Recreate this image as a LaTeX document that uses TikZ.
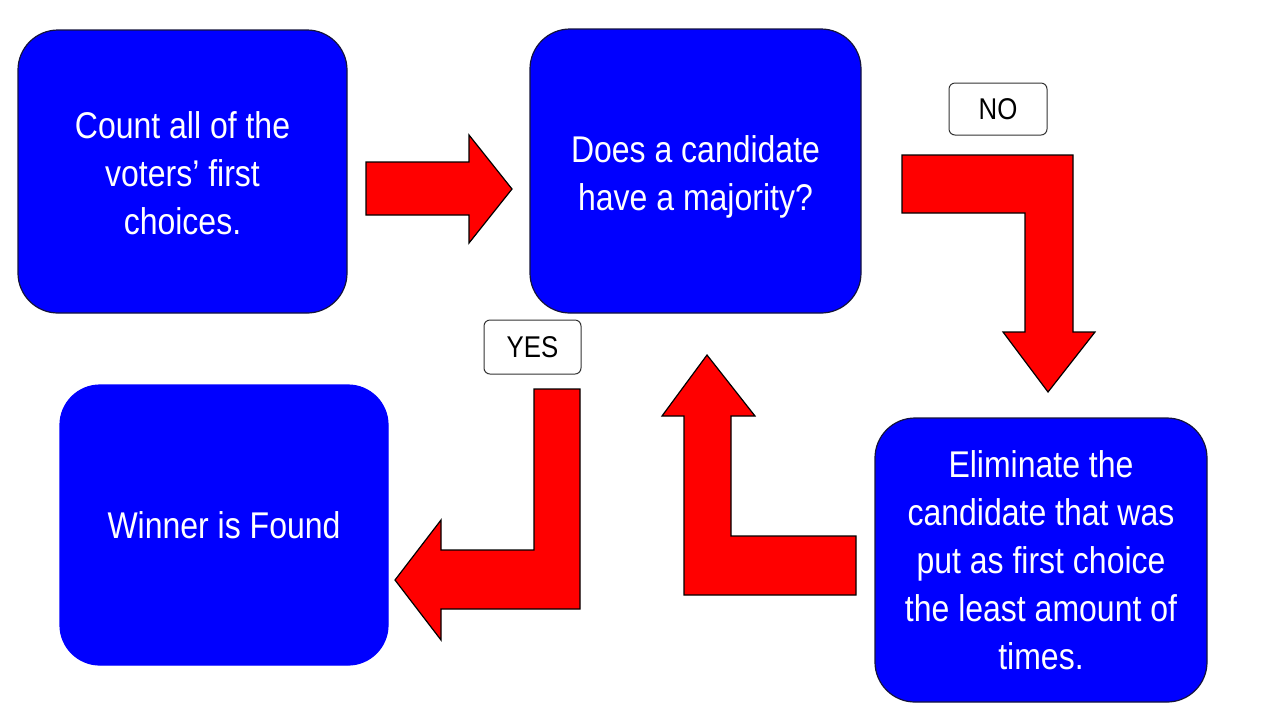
\documentclass[tikz,border=0pt]{standalone}
\usepackage{fontspec}
\setmainfont{Liberation Sans}[FakeStretch=0.86]
\definecolor{boxblue}{RGB}{0,0,255}
\definecolor{arrred}{RGB}{255,0,0}
\definecolor{boxline}{RGB}{20,20,60}
\begin{document}
\begin{tikzpicture}[x=0.5pt,y=-0.5pt,
  bluebox/.style={draw=boxline, line width=0.6pt, fill=boxblue, rounded corners=20pt,
    text=white, align=center, inner sep=0pt,
    font=\fontsize{18.6pt}{24pt}\selectfont},
  boxtext/.style={text=white, align=center, inner sep=0pt,
    font=\fontsize{18.6pt}{24pt}\selectfont},
  tagbox/.style={draw=black!80, line width=0.5pt, fill=white, rounded corners=3pt,
    inner sep=0pt, font=\fontsize{15pt}{18pt}\selectfont},
  blockarrow/.style={draw=black, line width=0.6pt, fill=arrred, line join=miter}]
\useasboundingbox (0,0) rectangle (1280,720);
\fill[white] (0,0) rectangle (1280,720);

\node[bluebox, minimum width=164.5pt, minimum height=141.5pt] (count) at (182.5,171.5) {};
\node[boxtext] (counttext) at (182.5,173.5) {Count all of the\\voters’ first\\choices.};
\node[bluebox, minimum width=165.5pt, minimum height=142pt] (maj) at (695.5,171) {};
\node[boxtext] (majtext) at (695.5,177) {Does a candidate\\have a majority?};
\node[bluebox, draw=boxblue, minimum width=164pt, minimum height=140pt] (win) at (224,525)
  {Winner is Found};
\node[bluebox, minimum width=166pt, minimum height=142pt] (elim) at (1041,560)
  {Eliminate the\\candidate that was\\put as first choice\\the least amount of\\times.};

\node[tagbox, minimum width=49pt, minimum height=26pt] (no) at (998,109) {NO};
\node[tagbox, minimum width=48.5pt, minimum height=27pt] (yes) at (532.5,347) {YES};

% count -> majority
\draw[blockarrow] (366,162) -- (469,162) -- (469,135) -- (512,189) -- (469,243)
  -- (469,215) -- (366,215) -- cycle;
% majority -> eliminate (NO)
\draw[blockarrow] (902,155) -- (1073,155) -- (1073,332) -- (1095,332) -- (1048,392)
  -- (1003,332) -- (1025,332) -- (1025,213) -- (902,213) -- cycle;
% majority -> winner (YES)
\draw[blockarrow] (534,389) -- (580,389) -- (580,609) -- (441,609) -- (441,640)
  -- (395,580) -- (441,520) -- (441,550) -- (534,550) -- cycle;
% eliminate -> majority
\draw[blockarrow] (856,536) -- (856,595) -- (684,595) -- (684,416) -- (662,416)
  -- (707,355) -- (755,416) -- (731,416) -- (731,536) -- cycle;
\end{tikzpicture}
\end{document}
